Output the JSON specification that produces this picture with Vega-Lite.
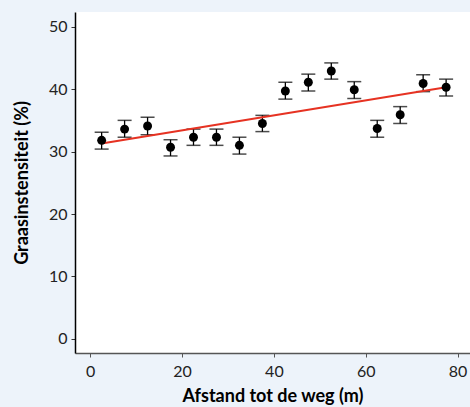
{
  "$schema": "https://vega.github.io/schema/vega-lite/v6.json",
  "width": 395,
  "height": 341,
  "autosize": "none",
  "padding": {"left": 75, "top": 12, "right": 0, "bottom": 54},
  "background": "#edf3fa",
  "config": {
    "view": {"fill": "white", "stroke": null},
    "font": "Lato"
  },
  "datasets": {
    "pts": [
      {"afstand": 2.5, "graas": 31.8, "lo": 30.4, "hi": 33.1},
      {"afstand": 7.5, "graas": 33.6, "lo": 32.3, "hi": 35.0},
      {"afstand": 12.5, "graas": 34.1, "lo": 32.7, "hi": 35.5},
      {"afstand": 17.5, "graas": 30.7, "lo": 29.3, "hi": 31.9},
      {"afstand": 22.5, "graas": 32.3, "lo": 31.0, "hi": 33.6},
      {"afstand": 27.5, "graas": 32.3, "lo": 31.0, "hi": 33.6},
      {"afstand": 32.5, "graas": 31.0, "lo": 29.6, "hi": 32.3},
      {"afstand": 37.5, "graas": 34.5, "lo": 33.2, "hi": 35.8},
      {"afstand": 42.5, "graas": 39.7, "lo": 38.4, "hi": 41.1},
      {"afstand": 47.5, "graas": 41.1, "lo": 39.7, "hi": 42.4},
      {"afstand": 52.5, "graas": 42.9, "lo": 41.6, "hi": 44.2},
      {"afstand": 57.5, "graas": 39.9, "lo": 38.5, "hi": 41.2},
      {"afstand": 62.5, "graas": 33.7, "lo": 32.3, "hi": 35.0},
      {"afstand": 67.5, "graas": 35.9, "lo": 34.5, "hi": 37.2},
      {"afstand": 72.5, "graas": 40.9, "lo": 39.6, "hi": 42.3},
      {"afstand": 77.5, "graas": 40.3, "lo": 38.9, "hi": 41.6}
    ],
    "fit": [
      {"afstand": 2.5, "graas": 31.3},
      {"afstand": 77.5, "graas": 40.3}
    ]
  },
  "layer": [
    {
      "data": {"name": "pts"},
      "mark": {"type": "rule", "color": "black", "strokeWidth": 1.3},
      "encoding": {
        "x": {
          "field": "afstand", "type": "quantitative",
          "scale": {"domain": [-3.3, 82.7], "nice": false, "zero": false},
          "axis": {
            "values": [0, 20, 40, 60, 80],
            "title": "Afstand tot de weg (m)",
            "titleFont": "Lato", "titleFontSize": 18, "titleFontWeight": "bold",
            "titleColor": "black", "titlePadding": 8,
            "labelFont": "Lato", "labelFontSize": 16, "labelColor": "#222",
            "labelPadding": 6, "tickSize": 4, "tickColor": "#555",
            "domainColor": "#555", "domainWidth": 1.5, "grid": false
          }
        },
        "y": {
          "field": "lo", "type": "quantitative",
          "scale": {"domain": [-2.25, 52.35], "nice": false, "zero": false},
          "axis": {
            "values": [0, 10, 20, 30, 40, 50],
            "title": "Graasinstensiteit (%)",
            "titleFont": "Lato", "titleFontSize": 18, "titleFontWeight": "bold",
            "titleColor": "black", "titlePadding": 17,
            "labelFont": "Lato", "labelFontSize": 16, "labelColor": "#222",
            "labelPadding": 4, "tickSize": 4, "tickColor": "#333",
            "domainColor": "black", "domainWidth": 1.5, "grid": false
          }
        },
        "y2": {"field": "hi"}
      }
    },
    {
      "data": {"name": "pts"},
      "mark": {"type": "tick", "orient": "horizontal", "color": "black", "size": 14, "thickness": 1.5},
      "encoding": {
        "x": {"field": "afstand", "type": "quantitative"},
        "y": {"field": "lo", "type": "quantitative"}
      }
    },
    {
      "data": {"name": "pts"},
      "mark": {"type": "tick", "orient": "horizontal", "color": "black", "size": 14, "thickness": 1.5},
      "encoding": {
        "x": {"field": "afstand", "type": "quantitative"},
        "y": {"field": "hi", "type": "quantitative"}
      }
    },
    {
      "data": {"name": "fit"},
      "mark": {"type": "line", "color": "#e63222", "strokeWidth": 2},
      "encoding": {
        "x": {"field": "afstand", "type": "quantitative"},
        "y": {"field": "graas", "type": "quantitative"}
      }
    },
    {
      "data": {"name": "pts"},
      "mark": {"type": "circle", "color": "black", "opacity": 1, "size": 80},
      "encoding": {
        "x": {"field": "afstand", "type": "quantitative"},
        "y": {"field": "graas", "type": "quantitative"}
      }
    }
  ]
}
